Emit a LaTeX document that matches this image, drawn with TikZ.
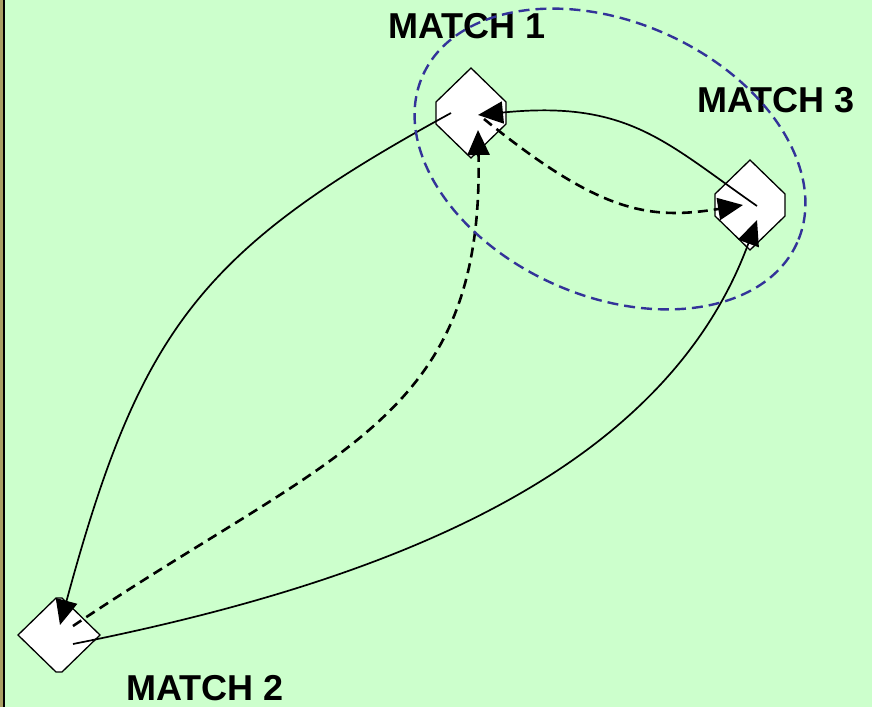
\documentclass[tikz,border=0pt]{standalone}
\usepackage{fontspec}
\setmainfont{Liberation Sans}
\usetikzlibrary{arrows.meta, calc}

\definecolor{paleGreen}{RGB}{204,255,204}
\definecolor{groupBlue}{RGB}{51,51,153}
\definecolor{edgeTan}{RGB}{170,160,100}

\tikzset{
    >={Triangle[length=25pt, width=22pt]}, % big filled heads
    matchshape/.style={draw, fill=white, line width=1.3pt, line join=miter}, % the match boxes
    matchlabel/.style={inner sep=0pt, font=\fontsize{36pt}{40pt}\selectfont\bfseries},
    flow/.style={->, line width=1.7pt},
    flowdash/.style={->, line width=2.6pt, dash pattern=on 10pt off 6pt},
}

% box with flat left and right sides, drawn round a named centre
\newcommand{\matchbox}[1]{%
    \draw[matchshape] (#1) ++(0,-45) -- ++(35,34) -- ++(0,22) -- ++(-35,34)
        -- ++(-35,-34) -- ++(0,-22) -- cycle;}
% box with flat top and bottom
\newcommand{\matchboxflat}[1]{%
    \draw[matchshape] (#1) ++(-3,-37) -- ++(6,0) -- ++(38,37) -- ++(-38,37)
        -- ++(-6,0) -- ++(-38,-37) -- cycle;}

\begin{document}
\begin{tikzpicture}[x=1pt, y=-1pt]
    \fill[paleGreen] (0,0) rectangle (872,707);
    \useasboundingbox (0,0) rectangle (872,707);
    \fill[edgeTan] (0,0) rectangle (2.5,707);
    \draw[line width=2pt] (3.5,0) -- (3.5,707);

    \coordinate (m1) at (471,113);
    \coordinate (m3) at (750,205);
    \coordinate (m2) at (59,635);
    \matchbox{m1}
    \matchbox{m3}
    \matchboxflat{m2}

    \draw[flow] ($(m1)+(-20,0)$) .. controls (200,250) and (140,330) .. ($(m2)+(1,-10)$);
    \draw[flowdash] ($(m2)+(14,-9)$) .. controls (335,450) and (484,420) .. ($(m1)+(7,17)$);
    \draw[flow] ($(m2)+(14,9)$) .. controls (395,580) and (665,470) .. ($(m3)+(7,15)$);
    \draw[flow] ($(m3)+(7,1)$) .. controls (665,142) and (628,100) .. ($(m1)+(7,2)$);
    \draw[flowdash] ($(m1)+(13,6)$) .. controls (601,214) and (650,220) .. ($(m3)+(-7,0)$);

    \node[matchlabel] (l1) at (467,26) {MATCH 1};
    \node[matchlabel] (l2) at (205,688) {MATCH 2};
    \node[matchlabel] (l3) at (776,100) {MATCH 3};

    % the group round match 1 and match 3
    \draw[groupBlue, line width=2.4pt, dash pattern=on 11pt off 6pt, rotate around={-24:(610,159)}]
        (610,159) ellipse [x radius=205, y radius=137];
\end{tikzpicture}
\end{document}
